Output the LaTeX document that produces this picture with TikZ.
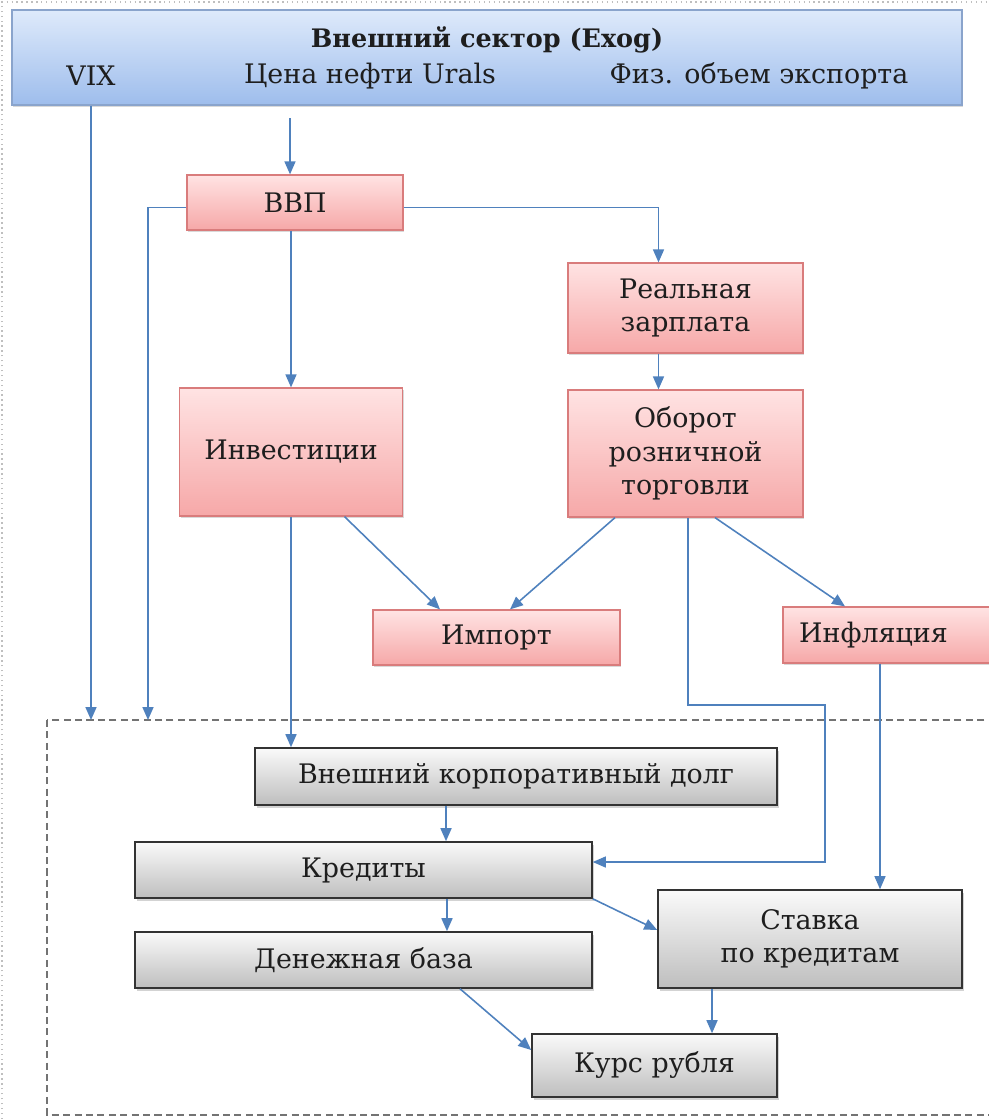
\documentclass[tikz,border=0pt]{standalone}
\usepackage{fontspec}
\setmainfont{DejaVu Serif}
\usepackage{tikz}
\usetikzlibrary{arrows.meta,calc,positioning,shadows}
\definecolor{linkblue}{HTML}{4F81BD}
\definecolor{exotop}{HTML}{DEEAFB}
\definecolor{exobot}{HTML}{9EBDEC}
\definecolor{exoline}{HTML}{8AA4CC}
\definecolor{realtop}{HTML}{FFE3E3}
\definecolor{realbot}{HTML}{F6A8A8}
\definecolor{realline}{HTML}{D97C7C}
\definecolor{fintop}{HTML}{FAFAFA}
\definecolor{finbot}{HTML}{BEBEBE}
\definecolor{finline}{HTML}{333333}
\definecolor{inktext}{HTML}{1E1E1E}

\begin{document}
\begin{tikzpicture}[x=0.02cm,y=-0.02cm,
    font=\fontsize{15.3}{19}\selectfont, text=inktext,
    exobox/.style={draw=exoline, line width=0.8pt, shading=axis, top color=exotop, bottom color=exobot,
      drop shadow={opacity=0.3, shadow xshift=0.8pt, shadow yshift=-1.2pt}},
    realbox/.style={draw=realline, line width=0.7pt, shading=axis, top color=realtop, bottom color=realbot,
      align=center, drop shadow={opacity=0.3, shadow xshift=0.8pt, shadow yshift=-1.2pt}},
    finbox/.style={draw=finline, line width=0.9pt, shading=axis, top color=fintop, bottom color=finbot,
      align=center, drop shadow={opacity=0.35, shadow xshift=1pt, shadow yshift=-1.5pt}},
    link/.style={-{Triangle[length=2.6mm,width=2.2mm]}, line width=0.9pt, linkblue}]
  \useasboundingbox (0,0) rectangle (988,1119);
  % page frame
  \draw[gray!50, dotted, line width=0.8pt] (2,1119) -- (2,2) -- (988,2);

  % exogenous block
  \node[exobox, minimum width=19cm, minimum height=1.9cm] (ext) at (487,57.5) {};
  \node[font=\fontsize{14.5}{17}\selectfont\bfseries] (title) at (487,40) {Внешний сектор (Exog)};
  \node (vix) at (91,76) {VIX};
  \node (urals) at (370,76) {Цена нефти Urals};
  \node (export) at (759,76) {Физ. объем экспорта};

  % real sector
  \node[realbox, minimum width=4.32cm, minimum height=1.1cm] (vvp) at (295,202.5) {ВВП};
  \node[realbox, minimum width=4.7cm, minimum height=1.8cm] (zp) at (685.5,308) {Реальная\\зарплата};
  \node[realbox, minimum width=4.46cm, minimum height=2.56cm] (inv) at (291,452) {Инвестиции};
  \node[realbox, minimum width=4.7cm, minimum height=2.54cm] (obr) at (685.5,453.5) {Оборот\\розничной\\торговли};
  \node[realbox, minimum width=4.94cm, minimum height=1.1cm] (imp) at (496.5,637.5) {Импорт};
  \node[realbox, minimum width=4.34cm, minimum height=1.12cm] (inf) at (891.5,635) {Инфляция\hspace*{0.72cm}};

  % financial block
  \draw[gray!90!black, dash pattern=on 4pt off 2.5pt, line width=1.1pt] (47,720) rectangle (1000,1115);
  \coordinate (fr) at (47,720);
  \node[finbox, minimum width=10.44cm, minimum height=1.14cm] (debt) at (516,776.5) {Внешний корпоративный долг};
  \node[finbox, minimum width=9.14cm, minimum height=1.12cm] (cred) at (363.5,870) {Кредиты};
  \node[finbox, minimum width=6.08cm, minimum height=1.96cm] (rate) at (810,939) {Ставка\\по кредитам};
  \node[finbox, minimum width=9.14cm, minimum height=1.12cm] (base) at (363.5,960) {Денежная база};
  \node[finbox, minimum width=4.9cm, minimum height=1.26cm] (rub) at (654.5,1065.5) {Курс рубля};

  \coordinate (oil) at (290,118);
  \coordinate (vvpleft) at (148,720);
  \coordinate (bend) at (825,705);

  \draw[link] (vix |- ext.south) -- (vix |- fr);
  \draw[link] (oil) -- (oil |- vvp.north);
  \draw[link] ([yshift=-0.1cm]vvp.west) -| (vvpleft);
  \draw[link] ([yshift=-0.1cm]vvp.east) -| ([xshift=-0.54cm]zp.north);
  \draw[link] (inv.north |- vvp.south) -- (inv.north);
  \draw[link] ([xshift=-0.54cm]zp.south) -- ([xshift=-0.54cm]obr.north);
  \draw[link] (inv.south) -- (inv.south |- debt.north);
  \draw[link] ([xshift=1.07cm]inv.south) -- ([xshift=-1.13cm]imp.north);
  \draw[link] ([xshift=-1.41cm]obr.south) -- ([xshift=0.27cm]imp.north);
  \draw[link] ([xshift=0.59cm]obr.south) -- ([xshift=-0.93cm]inf.north);
  \draw[link, line width=0.7pt] ([xshift=0.05cm]obr.south) |- (bend) |- ([yshift=0.16cm]cred.east);
  \draw[link, line width=0.7pt] ([xshift=-0.23cm]inf.south) -- ([xshift=-0.23cm]inf.south |- rate.north);
  \draw[link] ([xshift=-1.4cm]debt.south) -- ([xshift=-1.4cm]debt.south |- cred.north);
  \draw[link] ([xshift=1.67cm]cred.south) -- ([xshift=1.67cm]base.north);
  \draw[link] (cred.south east) -- ([yshift=0.18cm]rate.west);
  \draw[link] ([xshift=1.93cm]base.south) -- ([yshift=0.31cm]rub.west);
  \draw[link] ([xshift=-1.96cm]rate.south) -- ([xshift=-1.96cm]rate.south |- rub.north);
\end{tikzpicture}
\end{document}
